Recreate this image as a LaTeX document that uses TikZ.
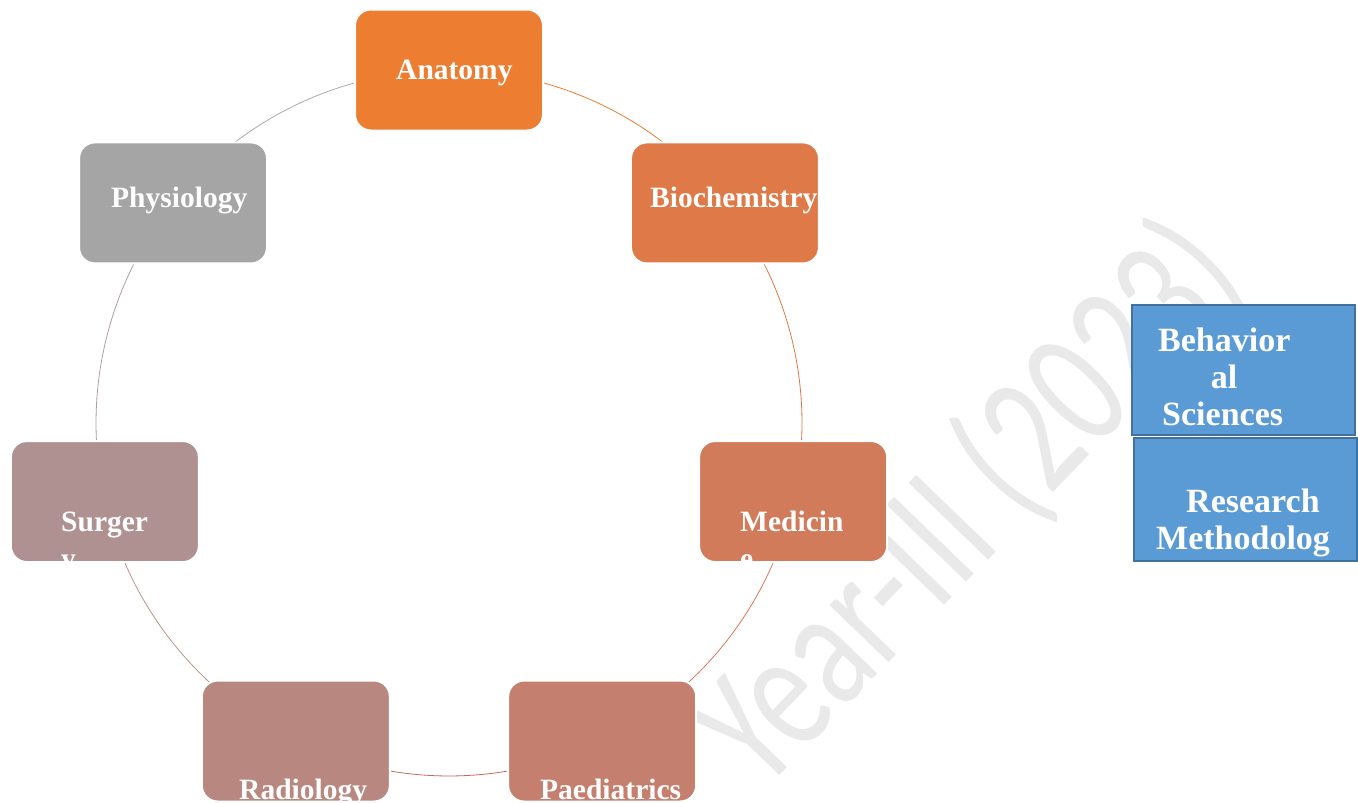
\documentclass[tikz,border=0pt]{standalone}
\usepackage{fontspec}
\setmainfont{Liberation Serif}
\newfontfamily\wmfont{Carlito}
\pgfdeclarelayer{bg}
\pgfsetlayers{bg,main}
\definecolor{cAna}{RGB}{237,125,49}
\definecolor{cBio}{RGB}{223,122,72}
\definecolor{cMed}{RGB}{209,123,91}
\definecolor{cPae}{RGB}{196,127,111}
\definecolor{cRad}{RGB}{184,136,128}
\definecolor{cSur}{RGB}{175,145,145}
\definecolor{cPhy}{RGB}{165,165,165}
\definecolor{aAB}{RGB}{237,125,49}
\definecolor{aBM}{RGB}{225,120,70}
\definecolor{aMP}{RGB}{215,120,90}
\definecolor{aPR}{RGB}{195,105,95}
\definecolor{aRS}{RGB}{190,145,140}
\definecolor{aSP}{RGB}{172,160,160}
\definecolor{aPA}{RGB}{170,170,170}
\definecolor{bFill}{RGB}{91,155,213}
\definecolor{bLine}{RGB}{65,113,156}
\definecolor{wm}{RGB}{233,233,233}
\begin{document}
\begin{tikzpicture}[x=1pt,y=-1pt,
  box/.style={rounded corners=16pt, minimum width=188pt, minimum height=121pt,
    draw=white, line width=2pt, inner sep=0pt},
  bbox/.style={rectangle, fill=bFill, draw=bLine, line width=2pt, inner sep=0pt},
  lbl/.style={text=white, font=\bfseries\fontsize{29.5}{36}\selectfont, anchor=base west, inner sep=0pt},
  blbl/.style={text=white, font=\bfseries\fontsize{34}{37}\selectfont, anchor=base west, inner sep=0pt},
  cyc/.style={line width=0.8pt}]
\useasboundingbox (0,0) rectangle (1358,803);
\coordinate (O) at (449,423);
% watermark
\begin{pgfonlayer}{bg}
\node[rotate=46, yscale=1.38, text=wm, font=\wmfont\fontsize{125}{125}\selectfont, inner sep=0pt] (wmark) at (970,505) {Year-III (2023)};
\end{pgfonlayer}
% boxes
\node[box, fill=cAna] (ana) at ([shift={(-90:353)}]O) {};
\node[box, fill=cBio] (bio) at ([shift={(-38.571:353)}]O) {};
\node[box, fill=cMed] (med) at ([shift={(12.857:353)}]O) {};
\node[box, fill=cPae] (pae) at ([shift={(64.286:353)}]O) {};
\node[box, fill=cRad] (rad) at ([shift={(115.714:353)}]O) {};
\node[box, fill=cSur] (sur) at ([shift={(167.143:353)}]O) {};
\node[box, fill=cPhy] (phy) at ([shift={(218.571:353)}]O) {};
% cycle arcs
\begin{pgfonlayer}{bg}
\draw[cyc, aAB] (ana.center) arc[start angle=-90, end angle=-38.571, radius=353];
\draw[cyc, aBM] (bio.center) arc[start angle=-38.571, end angle=12.857, radius=353];
\draw[cyc, aMP] (med.center) arc[start angle=12.857, end angle=64.286, radius=353];
\draw[cyc, aPR] (pae.center) arc[start angle=64.286, end angle=115.714, radius=353];
\draw[cyc, aRS] (rad.center) arc[start angle=115.714, end angle=167.143, radius=353];
\draw[cyc, aSP] (sur.center) arc[start angle=167.143, end angle=218.571, radius=353];
\draw[cyc, aPA] (phy.center) arc[start angle=218.571, end angle=270, radius=353];
\end{pgfonlayer}
% labels
\node[lbl] (tana) at (396,79) {Anatomy};
\node[lbl] (tbio) at (650,207) {Biochemistry};
\node[lbl] (tphy) at (111,207) {Physiology};
\node[lbl] (tmed1) at (740,531) {Medicin};
\node[lbl] (tmed2) at (740,568) {e};
\node[lbl] (tsur1) at (61,531) {Surger};
\node[lbl] (tsur2) at (61,568) {y};
\node[lbl] (trad) at (239,799) {Radiology};
\node[lbl] (tpae) at (540,799) {Paediatrics};
% blue boxes
\node[bbox, minimum width=223pt, minimum height=130pt] (beh) at (1243.5,370) {};
\node[bbox, minimum width=223pt, minimum height=123pt] (res) at (1245.5,499.5) {};
\node[blbl] (tbeh1) at (1158,351) {Behavior};
\node[blbl, anchor=base] (tbeh2) at (1224,388) {al};
\node[blbl] (tbeh3) at (1162,425) {Sciences};
\node[blbl] (tres1) at (1186,512) {Research};
\node[blbl] (tres2) at (1156,549) {Methodolog};
\end{tikzpicture}
\end{document}
